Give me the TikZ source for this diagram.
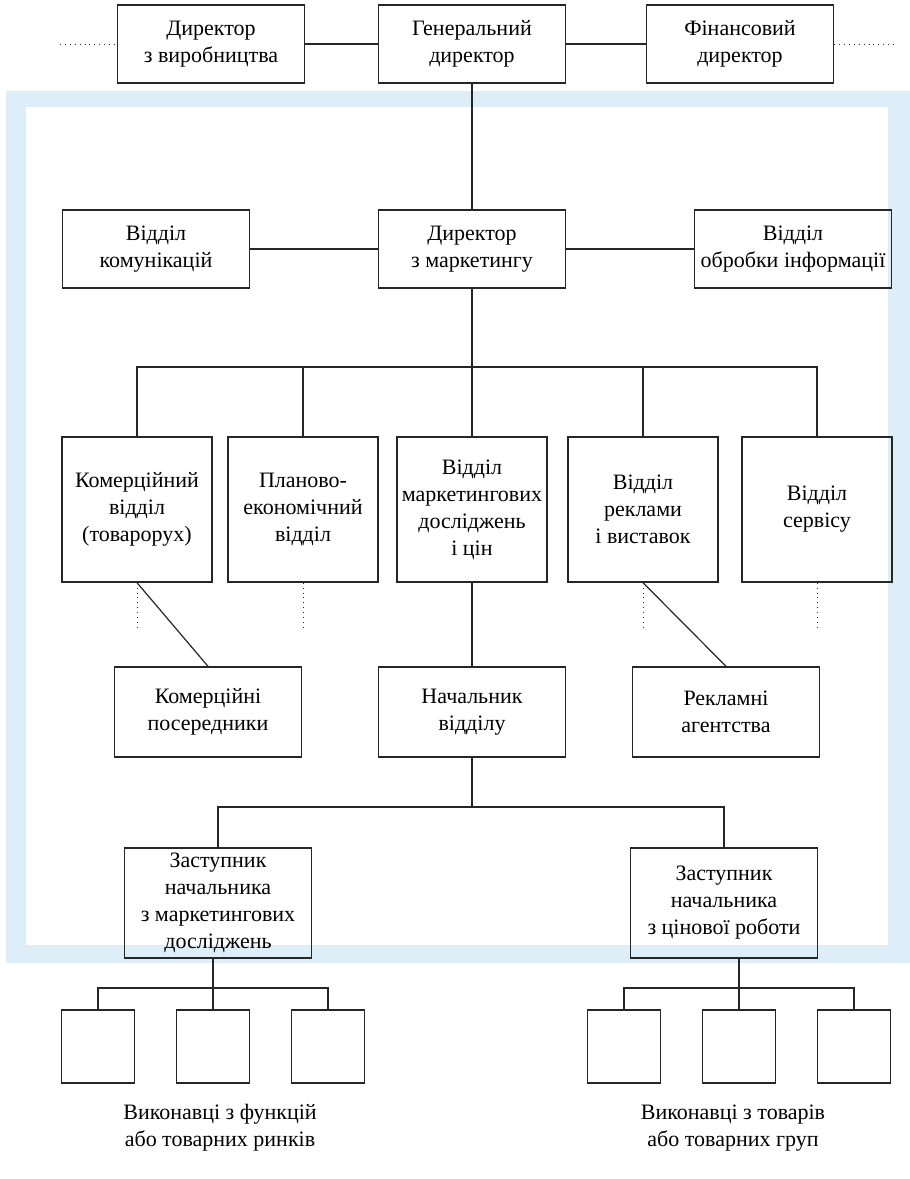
\documentclass[tikz,border=0pt]{standalone}
\usepackage{fontspec}
\setmainfont{Liberation Serif}
\usetikzlibrary{calc}
\definecolor{ink}{HTML}{262626}
\definecolor{wmark}{HTML}{DDEEF8}
\tikzset{
  unit/.style={draw=ink, line width=0.7pt, align=center, inner sep=1pt,
    font=\fontsize{11}{13.5}\selectfont},
  wide/.style={unit, minimum width=93.5pt, minimum height=39pt},
  dept/.style={unit, minimum width=75pt, minimum height=72.5pt},
  agent/.style={unit, minimum width=93.5pt, minimum height=45pt},
  deputy/.style={unit, minimum width=93.5pt, minimum height=55pt},
  cell/.style={unit, minimum width=36.5pt, minimum height=36.5pt},
  link/.style={draw=ink, line width=0.6pt},
  dots/.style={draw=ink, dotted, line width=0.45pt},
  caption/.style={align=center, font=\fontsize{11}{13.5}\selectfont},
}

\begin{document}
\begin{tikzpicture}[x=0.5pt, y=-0.5pt]
  \useasboundingbox (0,0) rectangle (910,1179);
  % watermark frame
  \fill[wmark] (6,91) rectangle (910,963);
  \fill[white] (26,107) rectangle (888,945);

  % top management
  \node[wide] (dprod) at (211,44)  {Директор\\з виробництва};
  \node[wide] (gen)   at (472,44)  {Генеральний\\директор};
  \node[wide] (fin)   at (740,44)  {Фінансовий\\директор};
  \coordinate (lend) at (60,44);
  \coordinate (rend) at (894,44);

  % marketing level
  \node[wide] (komun) at (156,249) {Відділ\\комунікацій};
  \node[wide] (mark)  at (472,249) {Директор\\з маркетингу};
  \node[wide, minimum width=98.5pt] (obrob) at (793,249) {Відділ\\обробки інформації};

  % departments
  \coordinate (bus) at (472,367);
  \node[dept] (b1) at (137,509.5) {Комерційний\\відділ\\(товарорух)};
  \node[dept] (b2) at (303,509.5) {Планово-\\економічний\\відділ};
  \node[dept] (b3) at (472,509.5) {Відділ\\маркетингових\\досліджень\\і цін};
  \node[dept] (b4) at (643,509.5) {Відділ\\реклами\\і виставок};
  \node[dept] (b5) at (817,509.5) {Відділ\\сервісу};

  \node[agent] (posered) at (208,712) {Комерційні\\посередники};
  \node[agent] (nach)    at (472,712) {Начальник\\відділу};
  \node[agent] (reklag)  at (726,712) {Рекламні\\агентства};

  % deputies
  \coordinate (nbus) at (472,807);
  \node[deputy] (zast1) at (218,903) {Заступник\\начальника\\з маркетингових\\досліджень};
  \node[deputy] (zast2) at (724,903) {Заступник\\начальника\\з цінової роботи};

  % performers
  \coordinate (lbus) at (213,988);
  \coordinate (rbus) at (739,988);
  \node[cell] (l1) at (98,1046.5)  {};
  \node[cell] (l2) at (213,1046.5) {};
  \node[cell] (l3) at (328,1046.5) {};
  \node[cell] (r1) at (624,1046.5) {};
  \node[cell] (r2) at (739,1046.5) {};
  \node[cell] (r3) at (854,1046.5) {};
  \node[caption] (lcap) at (220,1128) {Виконавці з функцій\\або товарних ринків};
  \node[caption] (rcap) at (733,1128) {Виконавці з товарів\\або товарних груп};

  % connectors
  \draw[dots] (lend) -- (dprod);
  \draw[dots] (fin) -- (rend);
  \draw[link] (dprod) -- (gen);
  \draw[link] (gen) -- (fin);
  \draw[link] (gen) -- (mark);
  \draw[link] (komun) -- (mark);
  \draw[link] (mark) -- (obrob);

  \draw[link] (mark) -- (bus);
  \draw[link] (b1.north) |- (bus) -| (b5.north);
  \foreach \d in {b2,b3,b4}
    \draw[link] (\d.north) -- (\d.north |- bus);
  \foreach \d in {b1,b2,b4,b5}
    \draw[dots] (\d.south) -- ++(0,45);

  \draw[link] (b1.south) -- (posered.north);
  \draw[link] (b4.south) -- (reklag.north);
  \draw[link] (b3) -- (nach);

  \draw[link] (nach) -- (nbus);
  \draw[link] (zast1.north) |- (nbus) -| (zast2.north);

  \draw[link] (zast1.south -| lbus) -- (l2.north);
  \draw[link] (l1.north) |- (lbus) -| (l3.north);
  \draw[link] (zast2.south -| rbus) -- (r2.north);
  \draw[link] (r1.north) |- (rbus) -| (r3.north);
\end{tikzpicture}
\end{document}
